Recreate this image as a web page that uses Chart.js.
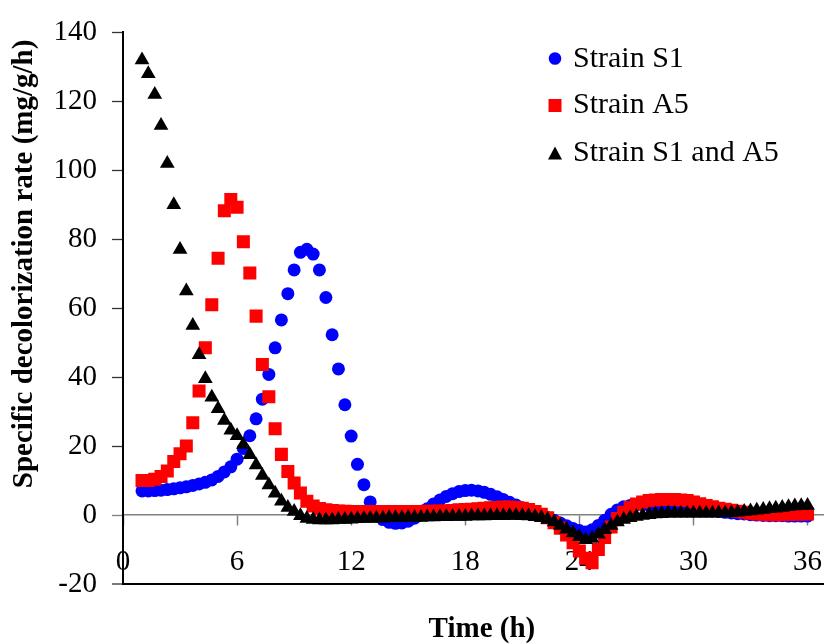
<!DOCTYPE html>
<html>
<head>
<meta charset="utf-8">
<title>Specific decolorization rate</title>
<script src="https://cdn.jsdelivr.net/npm/chart.js@4.4.1/dist/chart.umd.min.js"></script>
<style>
  html, body { margin: 0; padding: 0; background: #ffffff; overflow: hidden; }
  canvas { display: block; }
</style>
</head>
<body>
<canvas id="rateChart" width="850" height="644"></canvas>
<script>
// Sampling times (h)
const hours = [
  1.00, 1.33, 1.67, 2.00, 2.33, 2.67, 3.00, 3.33, 3.67, 4.00,
  4.33, 4.67, 5.00, 5.33, 5.67, 6.00, 6.33, 6.67, 7.00, 7.33,
  7.67, 8.00, 8.33, 8.67, 9.00, 9.33, 9.67, 10.00, 10.33, 10.67,
  11.00, 11.33, 11.67, 12.00, 12.33, 12.67, 13.00, 13.33, 13.67, 14.00,
  14.33, 14.67, 15.00, 15.33, 15.67, 16.00, 16.33, 16.67, 17.00, 17.33,
  17.67, 18.00, 18.33, 18.67, 19.00, 19.33, 19.67, 20.00, 20.33, 20.67,
  21.00, 21.33, 21.67, 22.00, 22.33, 22.67, 23.00, 23.33, 23.67, 24.00,
  24.33, 24.67, 25.00, 25.33, 25.67, 26.00, 26.33, 26.67, 27.00, 27.33,
  27.67, 28.00, 28.33, 28.67, 29.00, 29.33, 29.67, 30.00, 30.33, 30.67,
  31.00, 31.33, 31.67, 32.00, 32.33, 32.67, 33.00, 33.33, 33.67, 34.00,
  34.33, 34.67, 35.00, 35.33, 35.67, 36.00
];

// Specific decolorization rate (mg/g/h), strain S1
const strainS1 = [
  7.0, 7.0, 7.1, 7.2, 7.4, 7.6, 7.9, 8.2, 8.6, 9.0,
  9.5, 10.2, 11.2, 12.5, 14.0, 16.2, 19.3, 23.0, 27.9, 33.6,
  40.8, 48.5, 56.6, 64.2, 71.1, 76.2, 77.1, 75.7, 71.1, 63.1,
  52.3, 42.4, 32.0, 22.9, 14.7, 8.8, 3.8, 0.4, -1.3, -2.1,
  -2.4, -2.3, -1.8, -0.9, 0.4, 1.8, 3.2, 4.4, 5.4, 6.2,
  6.8, 7.1, 7.2, 7.0, 6.6, 6.0, 5.3, 4.5, 3.7, 2.9,
  2.1, 1.4, 0.7, 0.0, -0.7, -1.5, -2.3, -3.1, -3.9, -4.5,
  -4.9, -4.3, -3.0, -1.5, 0.2, 1.5, 2.4, 2.8, 3.0, 3.0,
  2.9, 2.8, 2.7, 2.6, 2.4, 2.2, 2.0, 1.8, 1.6, 1.4,
  1.2, 1.0, 0.8, 0.6, 0.4, 0.3, 0.1, 0.0, -0.1, -0.2,
  -0.2, -0.2, -0.3, -0.3, -0.3, -0.3
];

// Strain A5
const strainA5 = [
  10.0, 10.0, 10.4, 11.2, 12.8, 15.5, 17.8, 20.0, 26.8, 36.0,
  48.5, 61.0, 74.5, 88.3, 91.5, 89.3, 79.3, 70.2, 57.7, 43.7,
  34.3, 25.0, 17.6, 12.6, 9.3, 6.4, 4.0, 2.6, 1.9, 1.5,
  1.3, 1.2, 1.1, 1.0, 1.0, 1.0, 1.0, 1.0, 1.0, 1.0,
  1.0, 1.0, 1.0, 1.0, 1.0, 1.1, 1.1, 1.2, 1.2, 1.3,
  1.5, 1.6, 1.7, 1.8, 2.0, 2.1, 2.2, 2.3, 2.3, 2.2,
  2.0, 1.6, 1.0, 0.2, -0.8, -2.2, -3.8, -5.8, -8.0, -10.4,
  -12.5, -13.8, -10.0, -6.5, -3.5, -1.0, 0.8, 2.2, 3.2, 3.8,
  4.2, 4.4, 4.5, 4.5, 4.5, 4.4, 4.2, 3.8, 3.3, 2.8,
  2.4, 2.0, 1.7, 1.4, 1.1, 0.8, 0.5, 0.3, 0.2, 0.1,
  0.1, 0.1, 0.2, 0.2, 0.3, 0.3
];

// Strain S1 and A5 together
const strainS1A5 = [
  132.0, 128.0, 122.0, 113.0, 102.0, 90.0, 77.0, 65.0, 55.0, 46.5,
  39.5, 34.2, 30.8, 27.4, 24.6, 23.0, 20.5, 17.5, 14.5, 11.5,
  8.7, 6.3, 4.0, 2.2, 1.0, -0.2, -1.0, -1.3, -1.4, -1.4,
  -1.4, -1.3, -1.3, -1.2, -1.1, -1.0, -1.0, -0.9, -0.9, -0.8,
  -0.8, -0.8, -0.7, -0.7, -0.7, -0.6, -0.6, -0.5, -0.5, -0.4,
  -0.4, -0.4, -0.3, -0.3, -0.3, -0.2, -0.2, -0.2, -0.1, -0.1,
  -0.2, -0.3, -0.5, -0.8, -1.3, -2.0, -3.0, -4.1, -5.2, -6.3,
  -7.2, -6.8, -5.6, -4.3, -3.0, -2.0, -1.3, -0.8, -0.4, -0.1,
  0.1, 0.3, 0.4, 0.5, 0.5, 0.5, 0.5, 0.5, 0.5, 0.5,
  0.5, 0.6, 0.6, 0.7, 0.8, 1.0, 1.2, 1.4, 1.6, 1.8,
  2.0, 2.2, 2.4, 2.6, 2.7, 2.8
];

const seriesLabels = ['Strain S1', 'Strain A5', 'Strain S1 and A5'];
const xTickStep = 6;   // h
const yTickStep = 20;  // mg/g/h

const serif = "'Liberation Serif', 'Times New Roman', serif";
Chart.defaults.font.family = serif;
Chart.defaults.color = '#000000';

const toPoints = values => hours.map((h, i) => ({ x: h, y: values[i] }));

// Legend drawn inside the plot, top right
const insideLegend = {
  id: 'insideLegend',
  afterDraw(chart) {
    const ctx = chart.ctx;
    const markX = 555, textX = 573;
    const rows = [
      { mark: 58.5, base: 66.7 },
      { mark: 105.5, base: 113.3 },
      { mark: 153.5, base: 160.7 }
    ];
    ctx.save();
    chart.data.datasets.forEach((ds, i) => {
      const r = rows[i];
      ctx.fillStyle = ds.backgroundColor;
      ctx.beginPath();
      if (ds.pointStyle === 'circle') {
        ctx.arc(markX, r.mark, 6.3, 0, Math.PI * 2);
      } else if (ds.pointStyle === 'rect') {
        ctx.rect(markX - 6.5, r.mark - 6.5, 13, 13);
      } else {
        ctx.moveTo(markX, r.mark - 7);
        ctx.lineTo(markX + 7, r.mark + 6);
        ctx.lineTo(markX - 7, r.mark + 6);
        ctx.closePath();
      }
      ctx.fill();
      ctx.fillStyle = '#000000';
      ctx.font = '30px ' + serif;
      ctx.textAlign = 'left';
      ctx.textBaseline = 'alphabetic';
      ctx.fillText(ds.label, textX, r.base);
    });
    ctx.restore();
  }
};

new Chart(document.getElementById('rateChart'), {
  type: 'scatter',
  data: {
    datasets: [
      {
        label: seriesLabels[0],
        data: toPoints(strainS1),
        pointStyle: 'circle',
        pointRadius: 6.5,
        backgroundColor: '#0000ff',
        borderWidth: 0,
        order: 3
      },
      {
        label: seriesLabels[1],
        data: toPoints(strainA5),
        pointStyle: 'rect',
        pointRadius: 9.2,
        backgroundColor: '#ff0000',
        borderWidth: 0,
        order: 2
      },
      {
        label: seriesLabels[2],
        data: toPoints(strainS1A5),
        pointStyle: 'triangle',
        pointRadius: 8.5,
        backgroundColor: '#000000',
        borderWidth: 0,
        order: 1
      }
    ]
  },
  options: {
    responsive: false,
    animation: false,
    events: [],
    layout: { padding: { top: 26, right: 0, bottom: 0, left: 0 } },
    plugins: {
      legend: { display: false },
      tooltip: { enabled: false }
    },
    scales: {
      x: {
        type: 'linear',
        position: { y: 0 },
        min: 0,
        max: 37.75,
        ticks: {
          stepSize: xTickStep,
          includeBounds: false,
          autoSkip: false,
          maxRotation: 0,
          padding: 20,
          font: { size: 29 },
          color: '#000000'
        },
        grid: {
          drawOnChartArea: false,
          drawTicks: true,
          tickLength: 10,
          tickColor: '#808080',
          tickWidth: 1.5
        },
        border: { display: true, color: '#808080', width: 1.5 }
      },
      x2: {
        type: 'linear',
        position: 'bottom',
        min: 0,
        max: 1,
        ticks: { display: false },
        grid: { display: false, drawTicks: false },
        border: { display: false },
        title: {
          display: true,
          text: 'Time (h)',
          font: { size: 29, weight: 'bold', lineHeight: 1 },
          padding: { top: 31, bottom: 0 },
          color: '#000000'
        }
      },
      y: {
        type: 'linear',
        position: 'left',
        min: -20,
        max: 140,
        ticks: {
          stepSize: yTickStep,
          padding: 15,
          font: { size: 29 },
          color: '#000000'
        },
        grid: {
          drawOnChartArea: true,
          color: c => (c.tick && c.tick.value === -20) ? '#000000' : 'rgba(0,0,0,0)',
          lineWidth: c => (c.tick && c.tick.value === -20) ? 2 : 1,
          tickColor: c => (c.tick && c.tick.value === 0) ? '#808080' : '#333333',
          tickLength: 11,
          tickWidth: 1.3
        },
        border: { display: true, color: '#000000', width: 2 },
        title: {
          display: true,
          text: 'Specific decolorization rate (mg/g/h) ',
          align: 'end',
          font: { size: 29, weight: 'bold', lineHeight: 1 },
          padding: { top: 10.5, bottom: 0 },
          color: '#000000'
        },
        afterFit: scale => { scale.width = 123; }
      }
    }
  },
  plugins: [insideLegend]
});
</script>
</body>
</html>
